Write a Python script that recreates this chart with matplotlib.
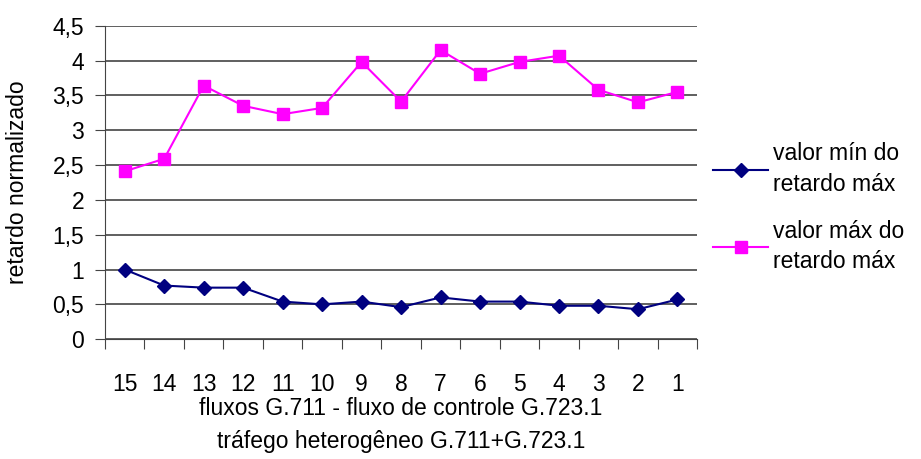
import matplotlib.pyplot as plt
import numpy as np
from matplotlib.ticker import FuncFormatter, FixedLocator

plt.rcParams['font.family'] = ['Liberation Sans', 'DejaVu Sans']

# categories (number of G.711 flows)
fluxos = ['15', '14', '13', '12', '11', '10', '9', '8', '7', '6', '5', '4', '3', '2', '1']

# series values
valor_min = [1.00, 0.77, 0.74, 0.74, 0.54, 0.50, 0.54, 0.46, 0.60, 0.54, 0.54, 0.48, 0.48, 0.43, 0.57]
valor_max = [2.41, 2.59, 3.64, 3.35, 3.23, 3.32, 3.98, 3.41, 4.15, 3.81, 3.98, 4.07, 3.58, 3.40, 3.55]

fs = 16.5

fig = plt.figure(figsize=(9.21, 4.59), dpi=100)
ax = fig.add_axes([0.114, 0.261, 0.643, 0.683])

x = np.arange(len(fluxos))
ax.plot(x, valor_min, color='#000080', marker='D', markersize=7, lw=1.5,
        label='valor mín do\nretardo máx')
ax.plot(x, valor_max, color='#ff00ff', marker='s', markersize=8, lw=1.5,
        label='valor máx do\nretardo máx')

ax.set_xlim(-0.5, len(fluxos) - 0.5)
ax.set_ylim(0, 4.5)
ax.set_yticks(np.arange(0, 4.51, 0.5))
ax.yaxis.set_major_formatter(FuncFormatter(lambda v, p: f'{v:g}'.replace('.', ',')))
ax.yaxis.grid(True, color='#444444', lw=1.2)
ax.set_axisbelow(True)

# ticks between categories, labels at the centres
ax.xaxis.set_major_locator(FixedLocator(np.arange(-0.5, len(fluxos), 1.0)))
ax.xaxis.set_major_formatter(FuncFormatter(lambda v, p: ''))
ax.xaxis.set_minor_locator(FixedLocator(x))
ax.set_xticklabels(fluxos, minor=True)
ax.tick_params(axis='x', which='major', length=7, direction='out', color='#444444')
ax.tick_params(axis='x', which='minor', length=0, pad=24, labelsize=fs)
ax.tick_params(axis='y', length=7, direction='out', color='#444444', labelsize=fs, pad=8)

for s in ['top', 'right']:
    ax.spines[s].set_visible(False)
ax.spines['left'].set_color('#444444')
ax.spines['bottom'].set_color('#444444')

ax.set_xlabel('fluxos G.711 - fluxo de controle G.723.1\ntráfego heterogêneo G.711+G.723.1',
              fontsize=fs, linespacing=1.55)
ax.xaxis.set_label_coords(0.5, -0.185)
ax.set_ylabel('retardo normalizado', fontsize=fs)
ax.yaxis.set_label_coords(-0.128, 0.5)

leg = ax.legend(loc='center left', bbox_to_anchor=(1.0, 0.42), frameon=False, fontsize=fs,
                handlelength=2.4, labelspacing=1.05, handletextpad=0.2, borderaxespad=0.3)
for t in leg.get_texts():
    t.set_linespacing(1.4)

fig.savefig('out.png', dpi=100)
